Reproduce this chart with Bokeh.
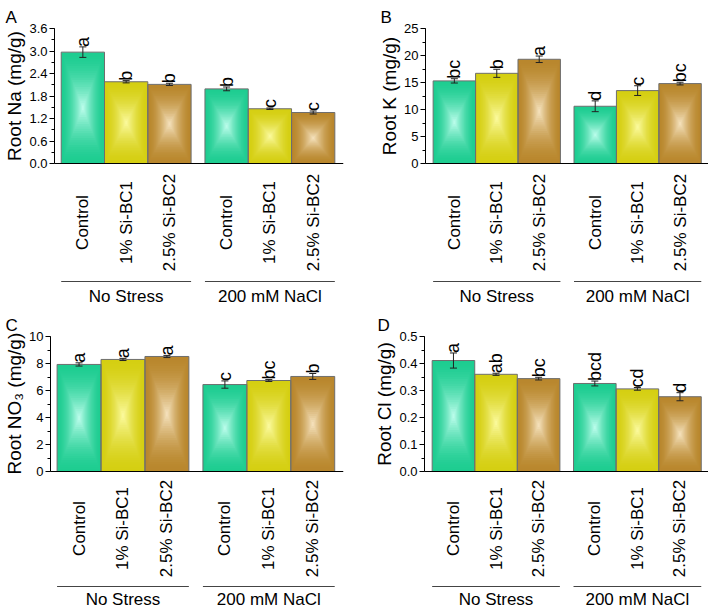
import math
from bokeh.plotting import figure
from bokeh.models import (Range1d, SingleIntervalTicker, LinearAxis, Span, Whisker,
                          ColumnDataSource, TeeHead, Title, PrintfTickFormatter)
from bokeh.layouts import column, row
from bokeh.embed import file_html
from bokeh.resources import INLINE
from bokeh.core.properties import value

# ---------------- data ----------------
treatments = ["Control", "1% Si-BC1", "2.5% Si-BC2"]
conditions = ["No Stress", "200 mM NaCl"]

na_mean = [2.97, 2.18, 2.11, 1.99, 1.46, 1.36]
na_err = [0.14, 0.03, 0.03, 0.05, 0.02, 0.04]
na_sig = ["a", "b", "b", "b", "c", "c"]

k_mean = [15.3, 16.7, 19.3, 10.6, 13.5, 14.8]
k_err = [0.4, 0.75, 0.6, 1.0, 0.9, 0.25]
k_sig = ["bc", "b", "a", "d", "c", "bc"]

no3_mean = [7.93, 8.30, 8.52, 6.44, 6.74, 7.04]
no3_err = [0.12, 0.08, 0.08, 0.27, 0.07, 0.22]
no3_sig = ["a", "a", "a", "c", "bc", "b"]

cl_mean = [0.411, 0.360, 0.344, 0.326, 0.306, 0.277]
cl_err = [0.028, 0.004, 0.005, 0.009, 0.005, 0.015]
cl_sig = ["a", "ab", "bc", "bcd", "cd", "d"]

# ---------------- style ----------------
FONT = "Liberation Sans"
EDGE = ["#1ecd91", "#d5cf12", "#b9872d"]
CENTER = ["#c4fff0", "#fdfca4", "#f8e6c4"]
OUTLINE = "#6e6e6e"
GAP = 0.32
NLAYERS = 24
GAMMA = 1.7
YLAB_SIZE = 19

# approximate Arial/Liberation Sans advance widths (per 1000 em) for centring the y title
CW = {'R': 722, 'o': 556, 't': 278, ' ': 278, 'N': 722, 'a': 556, '(': 333, 'm': 833,
      'g': 556, '/': 278, ')': 333, 'K': 667, 'O': 778, 'C': 722, 'l': 222, '\u2083': 370}


def text_width(s, size):
    return sum(CW.get(ch, 556) for ch in s) * size / 1000.0


def hex2rgb(h):
    h = h.lstrip("#")
    return tuple(int(h[i:i + 2], 16) for i in (0, 2, 4))


def lerp(c1, c2, t):
    a, b = hex2rgb(c1), hex2rgb(c2)
    return "#%02x%02x%02x" % tuple(int(round(a[i] + (b[i] - a[i]) * t)) for i in range(3))


def make_panel(letter, ylabel, means, errs, sig, top, interval, fmt,
               border_left, border_right, border_top, plot_px, x_start, x_end,
               off_cat, off_line, off_grp, letter_x):
    W, H = 354, 306
    below_px = H - border_top - plot_px
    ymin = -top * below_px / plot_px
    px = top / plot_px  # data units per pixel

    p = figure(width=W, height=H, output_backend="svg", toolbar_location=None,
               x_range=Range1d(x_start, x_end), y_range=Range1d(ymin, top),
               x_axis_location=None, y_axis_location=None,
               min_border_left=border_left, min_border_right=border_right,
               min_border_top=border_top, min_border_bottom=0)
    p.outline_line_color = None
    p.grid.visible = False
    p.background_fill_color = "white"
    p.border_fill_color = "white"

    p.title = Title(text=letter, align="left", vertical_align="top",
                    text_font=FONT, text_font_size="17px", text_font_style="normal",
                    text_color="black", standoff=0, offset=letter_x - border_left)

    yaxis = LinearAxis(bounds=(0, top),
                       ticker=SingleIntervalTicker(interval=interval, num_minor_ticks=2),
                       formatter=PrintfTickFormatter(format=fmt),
                       major_label_text_font=FONT, major_label_text_font_size="13px",
                       major_label_text_color="black", major_label_standoff=2,
                       major_tick_out=5, major_tick_in=0,
                       minor_tick_out=3, minor_tick_in=0,
                       axis_line_color="black", major_tick_line_color="black",
                       minor_tick_line_color="black")
    p.add_layout(yaxis, "left")

    # y title centred on the 0..top part of the frame
    ytitle = Title(text=ylabel, align="left",
                   offset=below_px + plot_px / 2 - text_width(ylabel, YLAB_SIZE) / 2,
                   text_font=FONT, text_font_size="%dpx" % YLAB_SIZE,
                   text_font_style="normal", text_color="black", standoff=3)
    p.add_layout(ytitle, "left")

    xs = [i + 1 + (GAP if i >= 3 else 0) for i in range(len(means))]

    # gradient bars: concentric rectangles from edge colour to centre colour
    L, R, B, T, C = [], [], [], [], []
    for i, (x, v) in enumerate(zip(xs, means)):
        ci = i % 3
        for k in range(NLAYERS):
            f = k / NLAYERS
            hw = 0.5 * (1 - f)
            hh = v / 2 * (1 - f)
            L.append(x - hw)
            R.append(x + hw)
            B.append(v / 2 - hh)
            T.append(v / 2 + hh)
            C.append(lerp(EDGE[ci], CENTER[ci], f ** GAMMA))
    p.quad(left=L, right=R, bottom=B, top=T, fill_color=C, line_color=None)

    p.quad(left=[x - 0.5 for x in xs], right=[x + 0.5 for x in xs],
           bottom=[0] * len(xs), top=means, fill_color=None,
           line_color=OUTLINE, line_width=1)

    # bottom axis line
    p.add_layout(Span(location=0, dimension="width", line_color="black", line_width=1))

    # error bars
    src = ColumnDataSource(dict(x=xs, upper=[m + e for m, e in zip(means, errs)],
                                lower=[m - e for m, e in zip(means, errs)]))
    w = Whisker(base="x", upper="upper", lower="lower", source=src, dimension="height",
                line_color="#222222", line_width=1,
                upper_head=TeeHead(size=7, line_color="#222222", line_width=1),
                lower_head=TeeHead(size=7, line_color="#222222", line_width=1))
    w.level = "annotation"
    p.add_layout(w)

    # significance letters
    p.text(x=xs, y=[m + e for m, e in zip(means, errs)], text=sig,
           angle=math.pi / 2, text_align="left", text_baseline="middle",
           text_font=value(FONT), text_font_size="18px", text_color="black")

    # category labels
    cats = treatments + treatments
    p.text(x=xs, y=[-off_cat * px] * len(xs), text=cats, angle=math.pi / 2,
           text_align="center", text_baseline="middle",
           text_font=value(FONT), text_font_size="17px", text_color="black")

    # group lines and labels
    g_left = [xs[0] - 0.5, xs[3] - 0.5]
    g_right = [xs[2] + 0.5, xs[5] + 0.5]
    p.segment(x0=g_left, x1=g_right, y0=[-off_line * px] * 2, y1=[-off_line * px] * 2,
              line_color="#444444", line_width=1)
    p.text(x=[(a + b) / 2 for a, b in zip(g_left, g_right)], y=[-off_grp * px] * 2,
           text=conditions, text_align="center", text_baseline="middle",
           text_font=value(FONT), text_font_size="17px", text_color="black")
    return p


pA = make_panel("A", "Root Na (mg/g)", na_mean, na_err, na_sig, 3.6, 0.6, "%.1f",
                54, 11, 28, 135, 0.345, 7.02, 59, 118, 133, 5)
pB = make_panel("B", "Root K (mg/g)", k_mean, k_err, k_sig, 25, 5, "%d",
                71, 0, 28, 135, 0.32, 6.99, 59, 118, 133, 26)
pC = make_panel("C", "Root NO\u2083 (mg/g)", no3_mean, no3_err, no3_sig, 10, 2, "%d",
                49, 11, 30, 135, 0.35, 7.02, 57, 115, 128, 4)
pD = make_panel("D", "Root Cl (mg/g)", cl_mean, cl_err, cl_sig, 0.5, 0.1, "%.1f",
                70, 0, 30, 135, 0.32, 6.99, 57, 115, 128, 23)

layout = column(row(pA, pB), row(pC, pD))
open("out.html", "w").write(file_html(layout, INLINE))
